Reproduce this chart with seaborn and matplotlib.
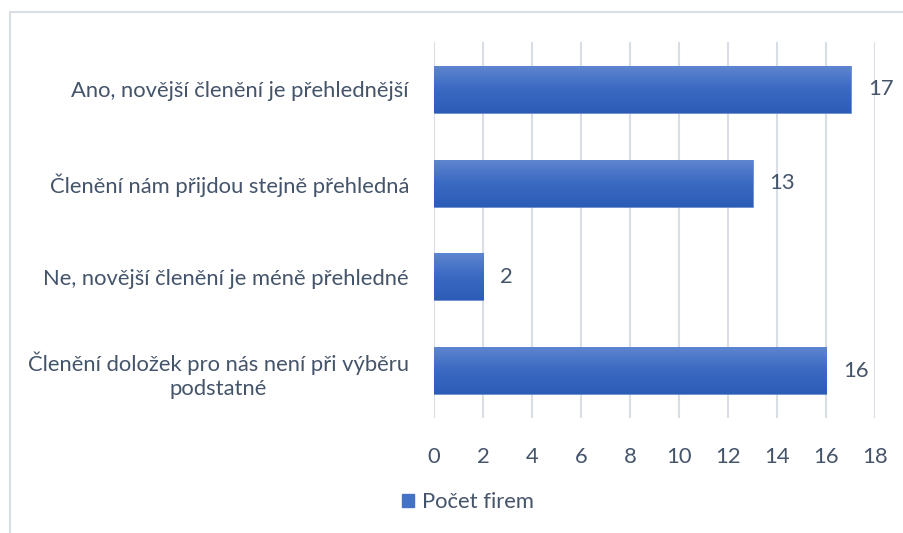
import numpy as np
import pandas as pd
import matplotlib
matplotlib.use("Agg")
import matplotlib.pyplot as plt
import seaborn as sns
from matplotlib.colors import LinearSegmentedColormap
from matplotlib.lines import Line2D
from matplotlib.patches import Patch

# Data
categories = [
    "Ano, novější členění je přehlednější",
    "Členění nám přijdou stejně přehledná",
    "Ne, novější členění je méně přehledné",
    "Členění doložek pro nás není při výběru\npodstatné",
]
counts = [17, 13, 2, 16]
series_name = "Počet firem"
x_ticks = [0, 2, 4, 6, 8, 10, 12, 14, 16, 18]

df = pd.DataFrame({"kategorie": categories, "pocet": counts})

sns.set_style("white")
plt.rcParams["font.family"] = ["Lato", "DejaVu Sans"]
text_col = "#44546A"
grid_col = "#D9DEE6"
fs = 15.8

fig = plt.figure(figsize=(9.04, 5.33), dpi=100)
ax = fig.add_axes([0.480, 0.216, 0.488, 0.705])

sns.barplot(data=df, x="pocet", y="kategorie", color="#4472C4",
            width=0.5, ax=ax, zorder=3)

# gradient fill on each bar
cmap = LinearSegmentedColormap.from_list("g", ["#5E85D0", "#3A69C2", "#2C5DB6"])
grad = np.linspace(0, 1, 256).reshape(-1, 1)
for p in ax.patches:
    x0, y0 = p.get_x(), p.get_y()
    w, h = p.get_width(), p.get_height()
    p.set_facecolor("none")
    p.set_edgecolor("#5B7FC8")
    p.set_linewidth(0.6)
    im = ax.imshow(grad, cmap=cmap, aspect="auto",
                   extent=[x0, x0 + w, y0 + h, y0], zorder=3)
    im.set_clip_path(p)
    ax.text(x0 + w + 0.7, y0 + h / 2, str(int(w)), va="center", ha="left",
            fontsize=fs, color=text_col)

ax.set_xlim(0, 18)
ax.set_ylim(3.5, -0.5)
ax.set_xticks(x_ticks)
ax.set_xticklabels([str(t) for t in x_ticks])
ax.xaxis.grid(True, color=grid_col, linewidth=1.5, zorder=0)
ax.set_axisbelow(True)
ax.tick_params(axis="x", length=0, pad=21, labelsize=fs, labelcolor=text_col)
ax.tick_params(axis="y", length=0, pad=18, labelsize=fs, labelcolor=text_col)
for lbl in ax.get_yticklabels():
    lbl.set_multialignment("center")
    lbl.set_linespacing(1.25)
for s in ax.spines.values():
    s.set_visible(False)
ax.set_xlabel("")
ax.set_ylabel("")

# legend
handle = Patch(facecolor="#4472C4", edgecolor="#4472C4")
fig.legend([handle], [series_name], loc="center", bbox_to_anchor=(0.518, 0.058),
           frameon=False, fontsize=fs, handlelength=0.55, handleheight=0.55,
           handletextpad=0.35, labelcolor=text_col)

# chart frame (top and left edges)
fig.add_artist(Line2D([10 / 904, 1], [1 - 12 / 533, 1 - 12 / 533],
                      transform=fig.transFigure, color=grid_col, linewidth=1.5))
fig.add_artist(Line2D([10 / 904, 10 / 904], [0, 1 - 12 / 533],
                      transform=fig.transFigure, color=grid_col, linewidth=1.5))

fig.savefig("out.png", dpi=100)
